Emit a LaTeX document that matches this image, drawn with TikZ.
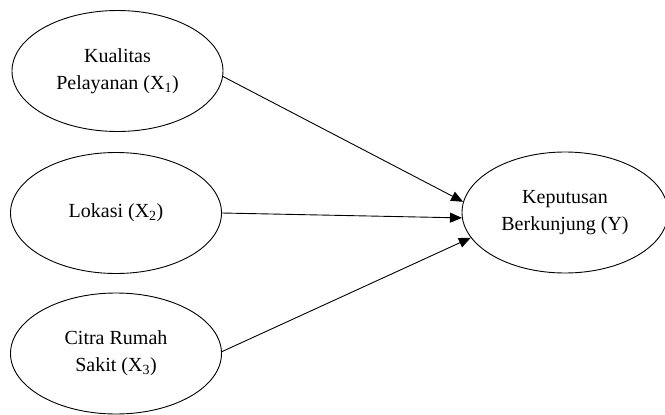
\documentclass[tikz,border=0pt]{standalone}
\usepackage{fontspec}
\setmainfont{Liberation Serif}
\usetikzlibrary{shapes.geometric,arrows.meta}
\begin{document}
\begin{tikzpicture}[x=1pt,y=-1pt,
  var/.style={draw,ellipse,line width=0.9pt,inner sep=0pt,minimum width=211pt,minimum height=121pt,align=center,font=\fontsize{20}{27}\selectfont},
  arr/.style={line width=0.9pt,-{Triangle[length=12pt,width=10pt]}}]
\useasboundingbox (0,0) rectangle (665,415);
\node[var] (x1) at (117.5,71) {Kualitas\\Pelayanan (X\textsubscript{1})};
\node[var] (x2) at (116,213) {Lokasi (X\textsubscript{2})};
\node[var] (x3) at (116,353.5) {Citra Rumah\\Sakit (X\textsubscript{3})};
\node[var,minimum width=206pt] (y) at (565,212.5) {Keputusan\\Berkunjung (Y)};
\draw[arr] (x1.-3.8) -- (y.174.3);
\draw[arr] (x2.east) -- (y.183);
\draw[arr] (x3.1.9) -- (y.195.8);
\end{tikzpicture}
\end{document}
